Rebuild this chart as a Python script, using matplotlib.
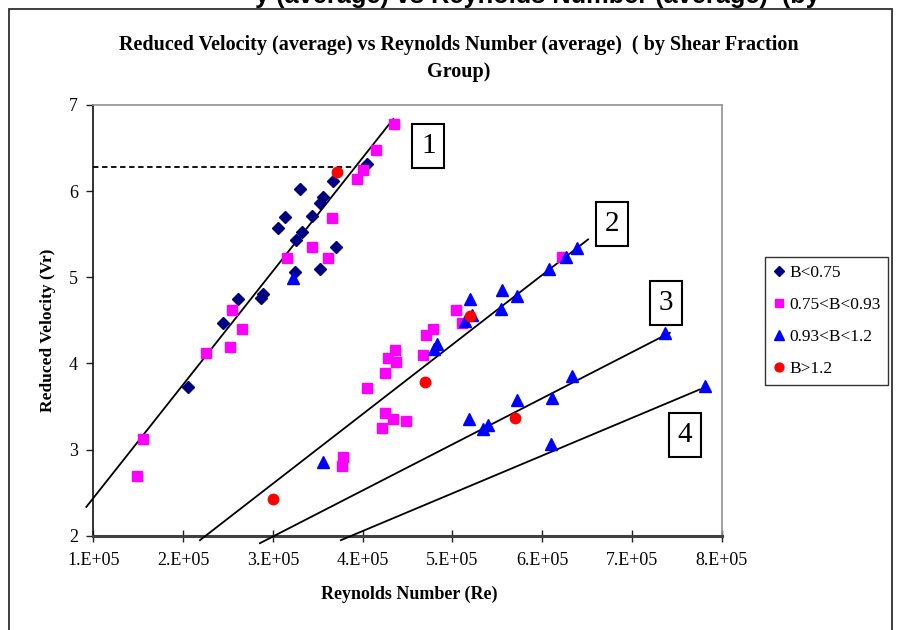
import matplotlib
matplotlib.use('Agg')
import matplotlib.pyplot as plt
from matplotlib.patches import Rectangle

plt.rcParams['font.family'] = ['Liberation Serif', 'DejaVu Serif']

# ---------------- data ----------------
# B < 0.75
b1_re = [3.302e5, 3.135e5, 3.060e5, 3.432e5, 3.555e5, 3.525e5, 3.666e5, 4.045e5, 3.321e5,
         3.257e5, 3.703e5, 3.525e5, 3.246e5, 2.893e5, 2.868e5, 2.615e5, 2.448e5, 2.058e5]
b1_vr = [6.02, 5.70, 5.575, 5.71, 5.93, 5.86, 6.12, 6.31, 5.52,
         5.43, 5.35, 5.10, 5.06, 4.81, 4.755, 4.75, 4.47, 3.73]
# 0.75 < B < 0.93
b2_re = [4.352e5, 4.148e5, 4.007e5, 3.940e5, 3.655e5, 3.435e5, 3.617e5, 3.154e5, 2.541e5,
         2.653e5, 2.522e5, 2.255e5, 1.557e5, 1.483e5, 6.216e5, 5.036e5, 5.111e5, 4.786e5,
         4.705e5, 4.675e5, 4.360e5, 4.278e5, 4.371e5, 4.248e5, 4.045e5, 4.248e5, 4.341e5,
         4.479e5, 4.212e5, 3.777e5, 3.766e5]
b2_vr = [6.78, 6.48, 6.25, 6.14, 5.69, 5.35, 5.22, 5.22, 4.62,
         4.40, 4.19, 4.12, 3.12, 2.69, 5.23, 4.62, 4.47, 4.40,
         4.33, 4.10, 4.15, 4.065, 4.02, 3.89, 3.71, 3.42, 3.35,
         3.33, 3.25, 2.915, 2.81]
# 0.93 < B < 1.2
b3_re = [3.221e5, 3.561e5, 6.383e5, 6.264e5, 6.078e5, 5.557e5, 5.715e5, 5.538e5, 5.195e5,
         5.214e5, 5.139e5, 4.824e5, 4.794e5, 7.366e5, 6.327e5, 6.111e5, 5.715e5, 5.180e5,
         5.340e5, 5.395e5, 7.812e5, 6.094e5]
b3_vr = [4.99, 2.86, 5.34, 5.24, 5.10, 4.855, 4.78, 4.63, 4.745,
         4.56, 4.495, 4.22, 4.17, 4.35, 3.85, 3.60, 3.58, 3.36,
         3.24, 3.29, 3.74, 3.06]
# B > 1.2
b4_re = [3.717e5, 3.004e5, 4.694e5, 5.195e5, 5.693e5]
b4_vr = [6.22, 2.43, 3.78, 4.55, 3.37]

series_labels = ['B<0.75', '0.75<B<0.93', '0.93<B<1.2', 'B>1.2']

# trend lines (start and end points)
line_re = [[0.922e5, 4.341e5], [2.188e5, 6.512e5], [2.856e5, 7.422e5], [3.758e5, 7.756e5]]
line_vr = [[2.334, 6.837], [1.948, 5.44], [1.913, 4.356], [1.948, 3.698]]
box_labels = ['1', '2', '3', '4']
box_re = [4.733e5, 6.776e5, 7.383e5, 7.589e5]
box_vr = [6.524, 5.618, 4.70, 3.167]

ref_vr = 6.28
ref_re_end = 3.93e5

x_ticks = [1e5, 2e5, 3e5, 4e5, 5e5, 6e5, 7e5, 8e5]
x_tick_labels = ['1.E+05', '2.E+05', '3.E+05', '4.E+05', '5.E+05', '6.E+05', '7.E+05', '8.E+05']
y_ticks = [2, 3, 4, 5, 6, 7]

# ---------------- figure ----------------
W, H = 901, 630
fig = plt.figure(figsize=(W / 100, H / 100), dpi=100)
fig.patch.set_facecolor('white')

L, R, T, B = 93.3, 721.7, 105.0, 535.7
ax = fig.add_axes([L / W, 1 - B / H, (R - L) / W, (B - T) / H])
ax.set_xlim(1e5, 8e5)
ax.set_ylim(2, 7)

# outer chart border
fig.add_artist(Rectangle((8.6 / W, -0.02), (892 - 8.6) / W, (H - 8.6) / H + 0.02,
                         transform=fig.transFigure, fill=False, ec='#303030', lw=1.3))

# fragment of a larger heading cropped at the very top of the reference
fig.text(255 / W, 1 - 2.5 / H, 'y (average) vs Reynolds Number (average)  (by',
         family=['Liberation Sans', 'DejaVu Sans'], weight='bold', fontsize=18.3,
         ha='left', va='baseline')

# title
fig.text(459 / W, 1 - 45 / H, 'Reduced Velocity (average) vs Reynolds Number (average)  ( by Shear Fraction',
         weight='bold', fontsize=14.5, ha='center', va='center')
fig.text(459 / W, 1 - 72 / H, 'Group)', weight='bold', fontsize=14.5, ha='center', va='center')

# axis labels
fig.text(409 / W, 1 - 594 / H, 'Reynolds Number (Re)', weight='bold', fontsize=13, ha='center', va='center')
fig.text(48 / W, 1 - 330 / H, 'Reduced Velocity (Vr)', weight='bold', fontsize=12.5, ha='center',
         va='center', rotation=90)

# spines
for s in ['top', 'right']:
    ax.spines[s].set_color('#909090')
    ax.spines[s].set_linewidth(1.2)
ax.spines['left'].set_color('#101010')
ax.spines['left'].set_linewidth(1.2)
ax.spines['bottom'].set_color('#404040')
ax.spines['bottom'].set_linewidth(2.2)

ax.set_xticks(x_ticks)
ax.set_xticklabels(x_tick_labels)
ax.set_yticks(y_ticks)
ax.tick_params(axis='x', direction='inout', length=8, width=1, pad=8, labelsize=13, color='#202020')
ax.tick_params(axis='y', direction='out', length=5, width=1, pad=6, labelsize=13, color='#202020')

# trend lines
for xs, ys in zip(line_re, line_vr):
    ax.plot(xs, ys, color='black', lw=1.3, clip_on=False, zorder=3)
ax.plot([1e5, ref_re_end], [ref_vr, ref_vr], color='black', lw=1.3, dashes=(3, 2), zorder=3)

# data
ax.plot(b1_re, b1_vr, linestyle='none', marker='D', ms=6, color='#000080', mec='#000080', label=series_labels[0], zorder=4)
ax.plot(b2_re, b2_vr, linestyle='none', marker='s', ms=7.5, color='#FF00FF', mec='#FF00FF', label=series_labels[1], zorder=4)
ax.plot(b3_re, b3_vr, linestyle='none', marker='^', ms=8.5, color='#0000FF', mec='#0000FF', label=series_labels[2], zorder=4)
ax.plot(b4_re, b4_vr, linestyle='none', marker='o', ms=7.5, color='#FF0000', mec='#FF0000', label=series_labels[3], zorder=4)

# numbered boxes
for lab, bx, by in zip(box_labels, box_re, box_vr):
    ax.text(bx, by, lab, fontsize=21, ha='center', va='center', clip_on=False, zorder=5,
            bbox=dict(boxstyle='square,pad=0.3', fc='white', ec='black', lw=1.5))

# legend
leg = fig.legend(loc='upper left', bbox_to_anchor=(765 / W, 1 - 257 / H), borderaxespad=0,
                 frameon=True, fancybox=False, fontsize=12.5, handlelength=0.7, handletextpad=0.25,
                 labelspacing=0.92, borderpad=0.45, markerscale=0.85)
leg.get_frame().set_edgecolor('black')
leg.get_frame().set_linewidth(1.0)

fig.savefig('out.png', dpi=100)
